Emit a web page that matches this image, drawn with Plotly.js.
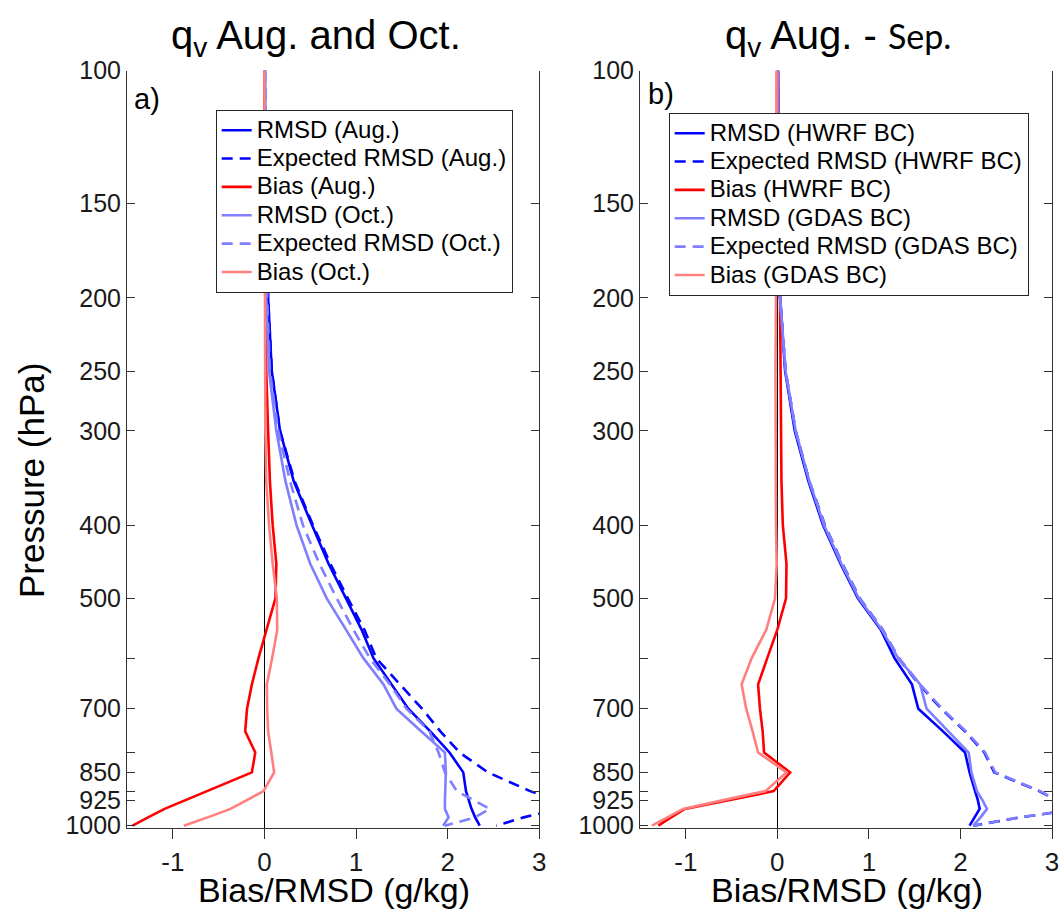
<!DOCTYPE html>
<html>
<head>
<meta charset="utf-8">
<script src="https://cdn.plot.ly/plotly-3.0.1.min.js"></script>
<style>html,body{margin:0;padding:0;background:#fff;}#plot{width:1060px;height:911px;}</style>
</head>
<body>
<div id="plot"></div>
<script>
// Pressure levels (hPa)
const levels = [100,150,200,250,300,350,400,450,500,550,600,650,700,750,800,850,900,925,950,975,1000];

// Panel a) Aug. and Oct.
const augRmsd = [0.005,0.01,0.04,0.08,0.17,0.32,0.52,0.70,0.89,1.06,1.19,1.39,1.57,1.81,2.02,2.17,2.20,2.23,2.26,2.30,2.35];
const augExp  = [0.005,0.01,0.04,0.08,0.17,0.33,0.53,0.72,0.91,1.09,1.22,1.48,1.72,1.92,2.13,2.44,2.90,3.20,3.22,2.83,2.53];
const augBias = [0.0,0.0,0.01,0.02,0.04,0.06,0.09,0.13,0.12,0.02,-0.065,-0.137,-0.19,-0.21,-0.10,-0.137,-0.63,-0.86,-1.09,-1.27,-1.44];
const octRmsd = [0.005,0.01,0.02,0.05,0.13,0.23,0.35,0.50,0.68,0.89,1.08,1.30,1.44,1.71,1.97,1.98,1.97,1.97,1.97,2.01,1.95];
const octExp  = [0.005,0.01,0.03,0.06,0.15,0.28,0.42,0.60,0.79,0.97,1.15,1.37,1.55,1.80,1.90,1.97,2.10,2.28,2.46,2.30,1.97];
const octBias = [0.0,0.0,0.005,0.008,0.01,0.02,0.05,0.09,0.135,0.14,0.084,0.026,0.03,0.04,0.075,0.106,-0.01,-0.19,-0.37,-0.62,-0.88];

// Panel b) Aug. - Sep.
const hwrfRmsd = [0.005,0.01,0.03,0.085,0.19,0.34,0.50,0.69,0.88,1.13,1.28,1.47,1.54,1.81,2.05,2.10,2.16,2.19,2.21,2.15,2.10];
const hwrfExp  = [0.005,0.01,0.03,0.09,0.20,0.35,0.52,0.71,0.90,1.15,1.32,1.55,1.79,2.05,2.26,2.37,2.86,3.05,3.30,2.65,2.14];
const hwrfBias = [0.01,0.02,0.03,0.03,0.035,0.045,0.06,0.10,0.095,0.0,-0.11,-0.21,-0.19,-0.16,-0.145,0.14,-0.04,-0.53,-1.01,-1.16,-1.30];
const gdasRmsd = [0.005,0.01,0.03,0.09,0.20,0.35,0.51,0.70,0.89,1.14,1.32,1.56,1.63,1.87,2.09,2.12,2.18,2.24,2.29,2.22,2.14];
const gdasExp  = [0.005,0.01,0.03,0.09,0.20,0.35,0.52,0.71,0.90,1.15,1.33,1.56,1.80,2.06,2.27,2.38,2.87,3.05,3.30,2.65,2.14];
const gdasBias = [-0.01,-0.01,-0.015,-0.02,-0.02,-0.02,-0.015,-0.007,-0.025,-0.12,-0.28,-0.39,-0.34,-0.27,-0.21,0.10,-0.13,-0.59,-1.03,-1.20,-1.37];

// Tick labels
const xTickVals = [-1,0,1,2,3];
const xTickText = ['-1','0','1','2','3'];
const yTickVals = [100,150,200,250,300,400,500,700,850,925,1000];
const yTickText = ['100','150','200','250','300','400','500','700','850','925','1000'];
const yMinorVals = [600,800,900];

const namesA = ['RMSD (Aug.)','Expected RMSD (Aug.)','Bias (Aug.)','RMSD (Oct.)','Expected RMSD (Oct.)','Bias (Oct.)'];
const namesB = ['RMSD (HWRF BC)','Expected RMSD (HWRF BC)','Bias (HWRF BC)','RMSD (GDAS BC)','Expected RMSD (GDAS BC)','Bias (GDAS BC)'];

const BLUE = '#0000ff', RED = '#ff0000', LBLUE = '#7f7fff', PINK = '#ff7f7f';
const DASH = '11px,7px';
const LW = 2.6;
const FONT = '"Liberation Sans", Arial, Helvetica, sans-serif';

function legName(s) { return '<span style="font-size:24px">' + s + '</span>'; }

function tr(x, name, color, dash, xa, ya, leg) {
  return {x: x, y: levels, type: 'scatter', mode: 'lines', name: legName(name),
          line: {color: color, width: LW, dash: dash}, xaxis: xa, yaxis: ya,
          legend: leg, hoverinfo: 'skip'};
}

const data = [
  tr(augRmsd, namesA[0], BLUE, 'solid', 'x', 'y', 'legend'),
  tr(augExp,  namesA[1], BLUE, DASH, 'x', 'y', 'legend'),
  tr(augBias, namesA[2], RED, 'solid', 'x', 'y', 'legend'),
  tr(octRmsd, namesA[3], LBLUE, 'solid', 'x', 'y', 'legend'),
  tr(octExp,  namesA[4], LBLUE, DASH, 'x', 'y', 'legend'),
  tr(octBias, namesA[5], PINK, 'solid', 'x', 'y', 'legend'),
  tr(hwrfRmsd, namesB[0], BLUE, 'solid', 'x2', 'y2', 'legend2'),
  tr(hwrfExp,  namesB[1], BLUE, DASH, 'x2', 'y2', 'legend2'),
  tr(hwrfBias, namesB[2], RED, 'solid', 'x2', 'y2', 'legend2'),
  tr(gdasRmsd, namesB[3], LBLUE, 'solid', 'x2', 'y2', 'legend2'),
  tr(gdasExp,  namesB[4], LBLUE, DASH, 'x2', 'y2', 'legend2'),
  tr(gdasBias, namesB[5], PINK, 'solid', 'x2', 'y2', 'legend2')
];

const AX = '#333333';
const yDom = [1 - 828.3/911, 1 - 70.5/911];
const yRange = [Math.log10(1008), 2];

function xAxis(dom, anchor) {
  return {domain: dom, range: [-1.5, 3], anchor: anchor, tickvals: xTickVals, ticktext: xTickText,
          ticks: 'outside', ticklen: 10, tickcolor: AX, tickwidth: 1, showline: true, linecolor: AX, linewidth: 1,
          zeroline: true, zerolinecolor: '#000000', zerolinewidth: 1, showgrid: false,
          tickfont: {size: 26, color: '#1a1a1a', family: FONT}, automargin: false, fixedrange: true};
}
function xTop(over, anchor) {
  return {overlaying: over, matches: over, side: 'top', anchor: anchor, range: [-1.5, 3], tickvals: xTickVals,
          ticks: 'inside', ticklen: 8, tickcolor: AX, showticklabels: false, showline: true, linecolor: AX, linewidth: 1,
          zeroline: false, showgrid: false, automargin: false, fixedrange: true};
}
function yAxis(anchor) {
  return {domain: yDom, type: 'log', range: yRange, anchor: anchor, tickvals: yTickVals, ticktext: yTickText,
          ticks: 'inside', ticklen: 8, tickcolor: AX, tickwidth: 1, mirror: 'ticks', showline: true, linecolor: AX, linewidth: 1,
          minor: {tickvals: yMinorVals, ticks: 'inside', ticklen: 8, tickcolor: AX, tickwidth: 1, showgrid: false},
          zeroline: false, showgrid: false, tickfont: {size: 25, color: '#1a1a1a', family: FONT}, automargin: false, fixedrange: true};
}

function legendCfg(x, y) {
  return {x: x, y: y, xanchor: 'left', yanchor: 'top', bgcolor: '#ffffff', bordercolor: '#262626', borderwidth: 1,
          font: {size: 19.5, color: '#000', family: FONT}, tracegroupgap: 0, itemwidth: 30,
          itemclick: false, itemdoubleclick: false};
}

function ann(text, xpx, ypx, size, extra) {
  return Object.assign({text: text, x: xpx/1060, y: 1 - ypx/911, xref: 'paper', yref: 'paper', showarrow: false,
          xanchor: 'center', yanchor: 'middle', font: {size: size, color: '#000', family: FONT}}, extra || {});
}

const layout = {
  width: 1060, height: 911,
  margin: {l: 0, r: 0, t: 0, b: 0},
  paper_bgcolor: '#ffffff', plot_bgcolor: '#ffffff',
  font: {family: FONT, color: '#000'},
  showlegend: true,
  xaxis: xAxis([127/1060, 539.3/1060], 'y'),
  xaxis2: xAxis([640/1060, 1052/1060], 'y2'),
  xaxis3: xTop('x', 'y'),
  xaxis4: xTop('x2', 'y2'),
  yaxis: yAxis('x'),
  yaxis2: yAxis('x2'),
  legend: legendCfg(215.7/1060, 1 - 110/911),
  legend2: legendCfg(668.7/1060, 1 - 113/911),
  annotations: [
    ann('q<sub>v</sub> Aug. and Oct.', 316, 38, 40),
    ann('q<sub>v</sub> Aug. - <span style="font-family:Lato;font-size:34px">Sep.</span>', 838, 38, 40),
    ann('a)', 147, 99, 29),
    ann('b)', 661, 94, 29),
    ann('Bias/RMSD (g/kg)', 334, 890, 34),
    ann('Bias/RMSD (g/kg)', 847, 890, 34),
    ann('Pressure (hPa)', 32, 481, 35, {textangle: -90})
  ]
};

Plotly.newPlot('plot', data, layout, {displayModeBar: false, staticPlot: true});
</script>
</body>
</html>
